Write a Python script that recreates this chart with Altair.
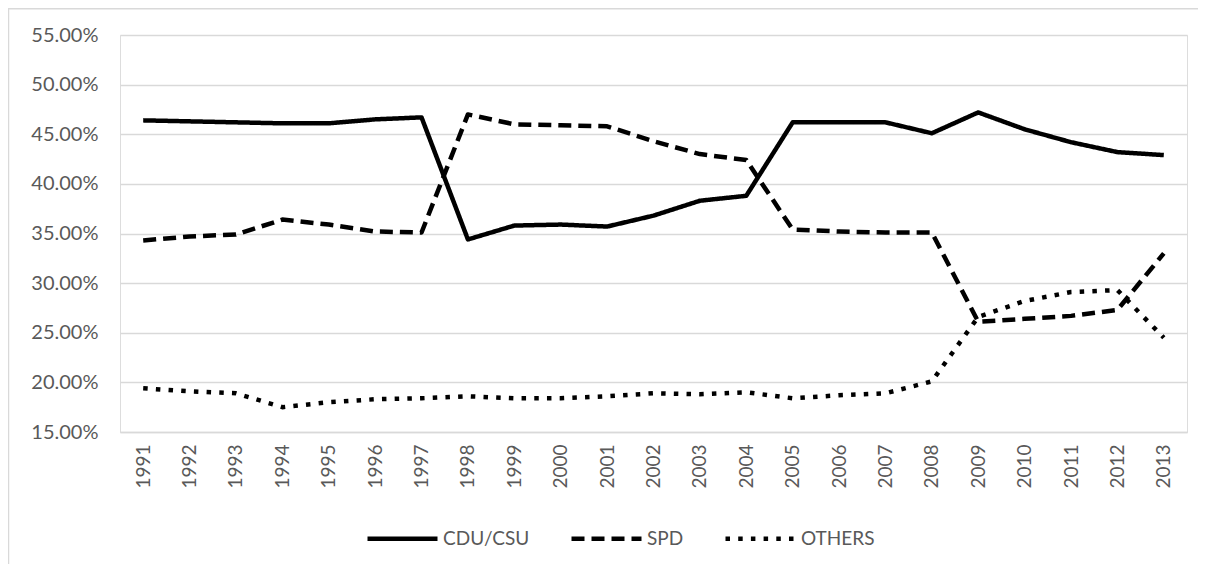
import altair as alt
import pandas as pd

years = [str(y) for y in range(1991, 2014)]
series = ["CDU/CSU", "SPD", "OTHERS"]
cdu = [46.4, 46.3, 46.2, 46.1, 46.1, 46.5, 46.7, 34.4, 35.8, 35.9, 35.7, 36.8,
       38.3, 38.8, 46.2, 46.2, 46.2, 45.1, 47.2, 45.5, 44.2, 43.2, 42.9]
spd = [34.3, 34.7, 34.9, 36.4, 35.9, 35.2, 35.1, 47.0, 46.0, 45.9, 45.8, 44.3,
       43.0, 42.4, 35.4, 35.2, 35.1, 35.1, 26.1, 26.4, 26.7, 27.3, 33.0]
others = [19.4, 19.1, 18.9, 17.5, 18.0, 18.3, 18.4, 18.6, 18.4, 18.4, 18.6, 18.9,
          18.8, 19.0, 18.4, 18.7, 18.9, 20.1, 26.6, 28.2, 29.1, 29.3, 24.5]
y_ticks = [0.15, 0.20, 0.25, 0.30, 0.35, 0.40, 0.45, 0.50, 0.55]

rows = []
for name, vals in zip(series, [cdu, spd, others]):
    for yr, v in zip(years, vals):
        rows.append({"year": yr, "party": name, "share": v / 100.0})
df = pd.DataFrame(rows)

FONT = "Lato"
GRAY = "#595959"
W, H = 1067, 397

lines = alt.Chart(df).mark_line(
    color="black", strokeWidth=4.5, strokeCap="butt", strokeJoin="round"
).encode(
    x=alt.X("year:O", sort=years, title=None,
            scale=alt.Scale(padding=0.5),
            axis=alt.Axis(labelAngle=270, labelAlign="right", labelBaseline="middle",
                          labelPadding=12, ticks=False, domain=True,
                          domainColor="#d9d9d9", domainWidth=1.3,
                          labelFont=FONT, labelFontSize=19, labelColor=GRAY)),
    y=alt.Y("share:Q", title=None,
            scale=alt.Scale(domain=[0.15, 0.55], nice=False, zero=False),
            axis=alt.Axis(values=y_ticks, format=".2%", grid=True, gridColor="#d9d9d9",
                          gridWidth=1.3, domain=False, ticks=False, labelPadding=22,
                          labelFont=FONT, labelFontSize=20, labelColor=GRAY)),
    strokeDash=alt.StrokeDash(
        "party:N",
        sort=series,
        scale=alt.Scale(domain=series, range=[[1, 0], [13, 7], [4.5, 8.2]]),
        legend=alt.Legend(title=None, orient="none", legendX=245, legendY=466,
                          direction="horizontal", symbolType="stroke", symbolSize=4900,
                          symbolStrokeWidth=4.5, symbolStrokeColor="black",
                          labelFont=FONT, labelFontSize=19, labelColor=GRAY,
                          labelOffset=3, columnPadding=32),
    ),
    detail="party:N",
)

frame_df = pd.DataFrame({"a": [0]})
top_rule = alt.Chart(frame_df).mark_rule(color="#d9d9d9", strokeWidth=1.5).encode(
    x=alt.value(-111.5), x2=alt.value(W + 30), y=alt.value(-26.3)
)
left_rule = alt.Chart(frame_df).mark_rule(color="#d9d9d9", strokeWidth=1.5).encode(
    x=alt.value(-111.5), y=alt.value(-27), y2=alt.value(H + 140)
)

chart = alt.layer(top_rule, left_rule, lines).properties(
    width=W, height=H,
    autosize=alt.AutoSizeParams(type="none"),
    padding={"left": 112, "top": 27, "right": 11, "bottom": 132},
).configure_view(stroke=None).configure(background="white")

chart.save("out.html", embed_options={"renderer": "svg", "actions": False})
